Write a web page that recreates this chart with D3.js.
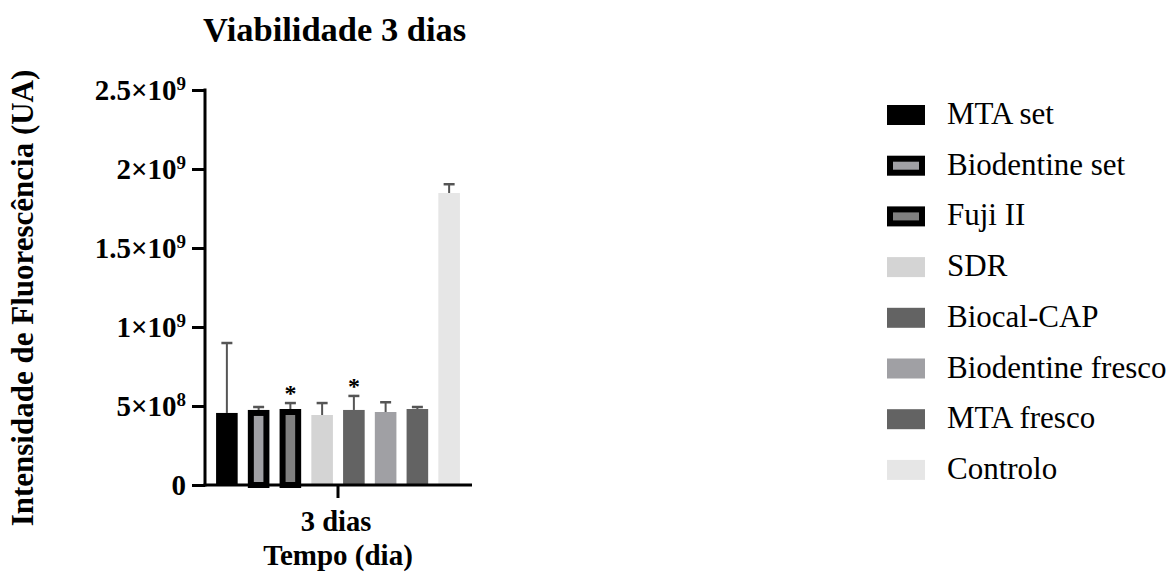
<!DOCTYPE html>
<html>
<head>
<meta charset="utf-8">
<script src="https://cdn.jsdelivr.net/npm/d3@7"></script>
<style>
  html, body { margin: 0; padding: 0; background: #ffffff; }
  svg { display: block; }
  text { font-family: "Liberation Serif", "Times New Roman", serif; fill: #000; }
</style>
</head>
<body>
<script>
// ---- data ----
const categories = ["MTA set", "Biodentine set", "Fuji II", "SDR", "Biocal-CAP", "Biodentine fresco", "MTA fresco", "Controlo"];
const means      = [0.456e9, 0.475e9, 0.481e9, 0.443e9, 0.475e9, 0.462e9, 0.481e9, 1.848e9];
const errors     = [0.449e9, 0.025e9, 0.044e9, 0.082e9, 0.095e9, 0.068e9, 0.019e9, 0.062e9];
const fills      = ["#000000", "#a0a0a4", "#808080", "#d4d4d4", "#636363", "#a0a0a4", "#636363", "#e6e6e6"];
const outlined   = [false, true, true, false, false, false, false, false];
const stars      = [false, false, true, false, true, false, false, false];
const tickValues = [0, 5e8, 1e9, 1.5e9, 2e9, 2.5e9];
const tickMantissa = ["0", "5", "1", "1.5", "2", "2.5"];
const tickExp      = [null, "8", "9", "9", "9", "9"];
const groupLabel = "3 dias";
const title = "Viabilidade 3 dias";
const yTitle = "Intensidade de Fluorescência (UA)";
const xTitle = "Tempo (dia)";

const W = 1171, H = 581;
const svg = d3.select("body").append("svg").attr("width", W).attr("height", H);

const y = d3.scaleLinear().domain([0, 2.5e9]).range([485, 90]);
const x = d3.scaleBand().domain(categories).range([211, 465]).paddingInner(0.32).paddingOuter(0.16);
const axisX0 = 205, axisX1 = 472;

// title
svg.append("text").attr("x", 203).attr("y", 41)
  .attr("font-size", 34.5).attr("font-weight", "bold").text(title);

// bars
const bw = x.bandwidth();
const g = svg.append("g");
categories.forEach((c, i) => {
  const x0 = x(c);
  if (outlined[i]) {
    const sw = 6;
    g.append("rect").attr("x", x0 + sw / 2).attr("y", y(means[i]) + sw / 2)
      .attr("width", bw - sw).attr("height", y(0) - y(means[i]) - sw / 2)
      .attr("fill", fills[i]).attr("stroke", "#000").attr("stroke-width", sw);
  } else {
    g.append("rect").attr("x", x0).attr("y", y(means[i]))
      .attr("width", bw).attr("height", y(0) - y(means[i]))
      .attr("fill", fills[i]);
  }
  // error bar (upper only)
  const cx = x0 + bw / 2;
  const top = y(means[i] + errors[i]);
  g.append("line").attr("x1", cx).attr("x2", cx).attr("y1", y(means[i])).attr("y2", top)
    .attr("stroke", "#555").attr("stroke-width", 2);
  g.append("line").attr("x1", cx - 5.5).attr("x2", cx + 5.5).attr("y1", top + 1).attr("y2", top + 1)
    .attr("stroke", "#555").attr("stroke-width", 2.5);
  if (stars[i]) {
    g.append("text").attr("x", cx).attr("y", top - 13 + 12)
      .attr("text-anchor", "middle").attr("font-size", 24).attr("font-weight", "bold").text("*");
  }
});

// y axis
const yAxis = d3.axisLeft(y).tickValues(tickValues).tickSize(13).tickPadding(6).tickFormat(() => "");
const ya = svg.append("g").attr("transform", `translate(${axisX0},0)`).call(yAxis);
ya.select(".domain").remove();
ya.selectAll(".tick line").attr("stroke", "#000").attr("stroke-width", 3);
ya.append("line").attr("x1", 0).attr("x2", 0).attr("y1", y(2.5e9) - 1.5).attr("y2", y(0) + 1.5)
  .attr("stroke", "#000").attr("stroke-width", 3);
ya.selectAll(".tick text").each(function (d, i) {
  const t = d3.select(this).text(null)
    .attr("font-size", 29).attr("font-weight", "bold")
    .attr("fill", "#000").attr("dy", "0.33em").attr("x", -19);
  t.append("tspan").text(tickExp[i] ? tickMantissa[i] + "×10" : tickMantissa[i]);
  if (tickExp[i]) t.append("tspan").attr("font-size", 19).attr("dy", "-0.55em").text(tickExp[i]);
});

// x axis
svg.append("line").attr("x1", axisX0 - 1.5).attr("x2", axisX1).attr("y1", y(0)).attr("y2", y(0))
  .attr("stroke", "#000").attr("stroke-width", 3);
const cxAll = (x(categories[0]) + x(categories[categories.length - 1]) + bw) / 2;
svg.append("line").attr("x1", cxAll).attr("x2", cxAll).attr("y1", y(0)).attr("y2", y(0) + 13)
  .attr("stroke", "#000").attr("stroke-width", 3);
svg.append("text").attr("x", cxAll - 2).attr("y", 531).attr("text-anchor", "middle")
  .attr("font-size", 28.5).attr("font-weight", "bold").text(groupLabel);
svg.append("text").attr("x", cxAll).attr("y", 565).attr("text-anchor", "middle")
  .attr("font-size", 29).attr("font-weight", "bold").text(xTitle);

// y title
svg.append("text").attr("transform", "translate(33,298) rotate(-90)").attr("text-anchor", "middle")
  .attr("font-size", 31).attr("font-weight", "bold").text(yTitle);

// legend
const leg = svg.append("g");
categories.forEach((c, i) => {
  const ty = 105 + i * 50.7;
  if (outlined[i]) {
    leg.append("rect").attr("x", 887 + 3).attr("y", ty + 3).attr("width", 38 - 6).attr("height", 20 - 6)
      .attr("fill", fills[i]).attr("stroke", "#000").attr("stroke-width", 6);
  } else {
    leg.append("rect").attr("x", 887).attr("y", ty).attr("width", 38).attr("height", 20).attr("fill", fills[i]);
  }
  leg.append("text").attr("x", 947).attr("y", ty + 19).attr("font-size", 31).text(c);
});
</script>
</body>
</html>
